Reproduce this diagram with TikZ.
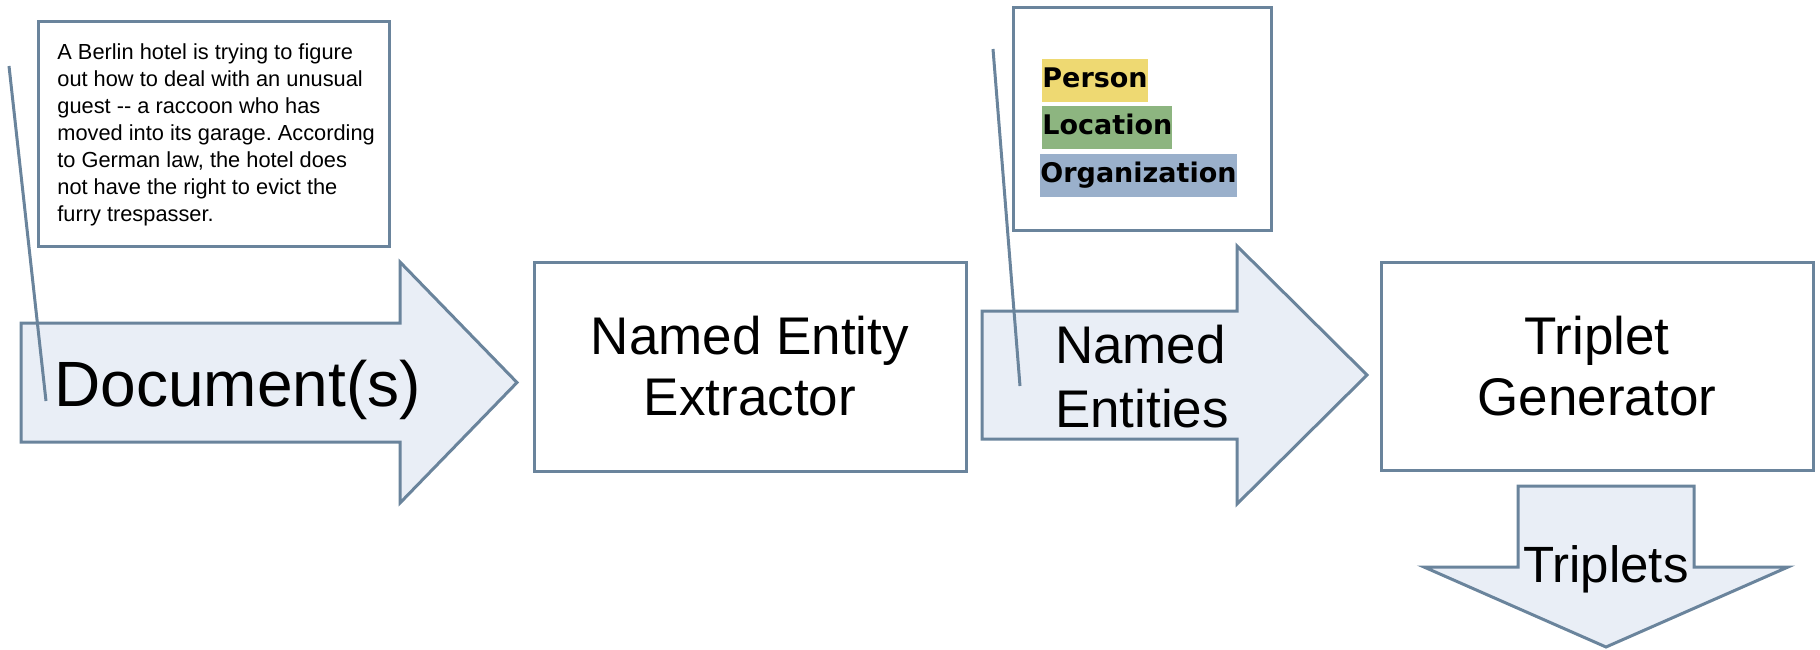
\documentclass[tikz,border=0pt]{standalone}
\usepackage{fontspec}
\setmainfont{Liberation Sans}
\newfontfamily\tagfont{DejaVu Sans}
\usetikzlibrary{positioning}
\definecolor{edgeslate}{RGB}{106,132,156}
\definecolor{flowfill}{RGB}{233,238,246}
\definecolor{tagyellow}{RGB}{238,217,114}
\definecolor{taggreen}{RGB}{141,181,128}
\definecolor{tagblue}{RGB}{154,176,203}

\tikzset{
  box/.style={draw=edgeslate, line width=1.5pt, fill=white, inner sep=0pt},
  flow/.style={draw=edgeslate, line width=1.5pt, fill=flowfill, line join=miter},
  bigtext/.style={font=\fontsize{26.5}{30.5}\selectfont, align=center},
  tag/.style={font=\tagfont\bfseries\fontsize{13.5}{15}\selectfont, inner xsep=0pt, minimum height=21.5pt, text height=9.8pt, text depth=2.6pt, anchor=west},
  pointer/.style={draw=edgeslate, line width=1.5pt},
}

\begin{document}
\frenchspacing
\begin{tikzpicture}[x=0.5pt, y=-0.5pt]
  \useasboundingbox (0,0) rectangle (1820,649);

  % Source document
  \node[box, minimum width=175.5pt, minimum height=112.5pt] (src) at (213.5,133.5) {};
  \node[anchor=north west, inner sep=0pt, align=left, font=\fontsize{10.9}{13.55}\selectfont] (srctext) at (57,43) {
    A Berlin hotel is trying to figure\\
    out how to deal with an unusual\\
    guest -{}- a raccoon who has\\
    moved into its garage. According\\
    to German law, the hotel does\\
    not have the right to evict the\\
    furry trespasser.};

  % Document(s) arrow
  \draw[flow] (21,323) -- (400,323) -- (400,262) -- (517,382.5) -- (400,503) -- (400,442) -- (21,442) -- cycle;
  \node[font=\fontsize{32}{36}\selectfont, anchor=base west, inner sep=0pt] (doclabel) at (54,406) {Document(s)};

  % Extractor
  \node[box, bigtext, minimum width=216pt, minimum height=104.5pt] (nee) at (750,366.5) {Named Entity\\Extractor};

  % Entity legend
  \node[box, minimum width=129pt, minimum height=111.5pt] (legend) at (1142,118.5) {};
  \node[tag, fill=tagyellow] (person) at (1042,80) {Person};
  \node[tag, fill=taggreen] (location) at (1042,127) {Location};
  \node[tag, fill=tagblue] (organization) at (1040,175) {Organization};

  % Named Entities arrow
  \draw[flow] (982,311) -- (1237,311) -- (1237,246) -- (1367,375) -- (1237,504) -- (1237,439) -- (982,439) -- cycle;
  \node[font=\fontsize{26.5}{32}\selectfont, align=left, inner sep=0pt] (nelabel) at (1142,376.5) {Named\\Entities};

  % Generator
  \node[box, bigtext, minimum width=216pt, minimum height=104pt] (gen) at (1597,366) {Triplet\\Generator};

  % Triplets arrow
  \draw[flow] (1518,486) -- (1694,486) -- (1694,567) -- (1788,567) -- (1606,647) -- (1424,567) -- (1518,567) -- cycle;
  \node[font=\fontsize{25.5}{30}\selectfont, anchor=base, inner sep=0pt] (triplabel) at (1606,582) {Triplets};

  % Pointer lines
  \coordinate (srcfrom) at (9,66);
  \coordinate (srcto) at (46,401);
  \coordinate (nefrom) at (993,49);
  \coordinate (neto) at (1020,386);
  \draw[pointer] (srcfrom) -- (srcto);
  \draw[pointer] (nefrom) -- (neto);
\end{tikzpicture}
\end{document}
